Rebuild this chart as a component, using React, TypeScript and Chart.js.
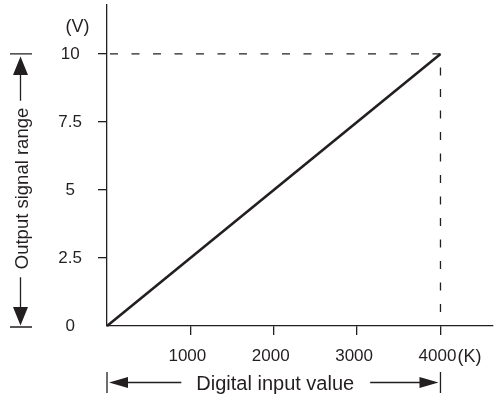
import { useEffect, useRef } from 'react';
import { Chart, registerables } from 'chart.js';

Chart.register(...registerables);

// ---- data ----
const inputValues = [0, 4000];
const outputValues = [0, 10];
const guideHorizontalX = [4000, 0];
const guideHorizontalY = [10, 10];
const guideVerticalX = [4000, 4000];
const guideVerticalY = [10, 0];
const xTickValues = [1000, 2000, 3000, 4000];
const yTickValues = [0, 2.5, 5, 7.5, 10];
const xUnit = '(K)';
const yUnit = '(V)';
const xTitle = 'Digital input value';
const yTitle = 'Output signal range';

const INK = '#231f20';
const FONT = '"Liberation Sans", Arial, Helvetica, sans-serif';

const toPoints = (xs: number[], ys: number[]) => xs.map((x, i) => ({ x, y: ys[i] }));

const decorations = {
  id: 'decorations',
  afterDraw(chart: any) {
    const { ctx } = chart;
    const xs = chart.scales.x;
    const ys = chart.scales.y;
    ctx.save();
    ctx.fillStyle = INK;
    ctx.strokeStyle = INK;
    ctx.lineWidth = 1.3;

    // units
    ctx.font = `18px ${FONT}`;
    ctx.textAlign = 'center';
    ctx.textBaseline = 'middle';
    ctx.fillText(yUnit, 77.5, ys.top + 22);
    ctx.textAlign = 'left';
    ctx.textBaseline = 'alphabetic';
    const lastX = xs.getPixelForValue(xTickValues[xTickValues.length - 1]);
    ctx.fillText(xUnit, lastX + 17, xs.top + 36);

    // y title with arrows
    const yTop = ys.getPixelForValue(10);
    const yBot = ys.getPixelForValue(0);
    const ax = 20.5;
    ctx.font = `18.5px ${FONT}`;
    const tw = ctx.measureText(yTitle).width;
    const cy = (yTop + yBot) / 2 - 1.5;
    ctx.beginPath();
    ctx.moveTo(10, yTop); ctx.lineTo(32, yTop);
    ctx.moveTo(10, yBot + 1); ctx.lineTo(32, yBot + 1);
    ctx.moveTo(ax, yTop + 20); ctx.lineTo(ax, cy - tw / 2 - 7);
    ctx.moveTo(ax, cy + tw / 2 + 8); ctx.lineTo(ax, yBot - 18);
    ctx.stroke();
    ctx.beginPath();
    ctx.moveTo(ax, yTop + 2.5); ctx.lineTo(ax - 7.5, yTop + 21); ctx.lineTo(ax + 7.5, yTop + 21); ctx.closePath();
    ctx.moveTo(ax, yBot - 0.5); ctx.lineTo(ax - 7.5, yBot - 19); ctx.lineTo(ax + 7.5, yBot - 19); ctx.closePath();
    ctx.fill();
    ctx.save();
    ctx.translate(27.5, cy);
    ctx.rotate(-Math.PI / 2);
    ctx.textAlign = 'center';
    ctx.textBaseline = 'alphabetic';
    ctx.fillText(yTitle, 0, 0);
    ctx.restore();

    // x title with arrows
    const xL = xs.getPixelForValue(0);
    const xR = xs.getPixelForValue(4000);
    const by = xs.top + 56.5;
    ctx.font = `20px ${FONT}`;
    const tw2 = ctx.measureText(xTitle).width;
    const cx = (xL + xR) / 2 + 1.5;
    ctx.beginPath();
    ctx.moveTo(xL, by - 10.5); ctx.lineTo(xL, by + 10.5);
    ctx.moveTo(xR, by - 10.5); ctx.lineTo(xR, by + 10.5);
    ctx.moveTo(xL + 20, by); ctx.lineTo(cx - tw2 / 2 - 15, by);
    ctx.moveTo(cx + tw2 / 2 + 16, by); ctx.lineTo(xR - 20, by);
    ctx.stroke();
    ctx.beginPath();
    ctx.moveTo(xL + 2, by); ctx.lineTo(xL + 21, by - 5.5); ctx.lineTo(xL + 21, by + 5.5); ctx.closePath();
    ctx.moveTo(xR - 2, by); ctx.lineTo(xR - 21, by - 5.5); ctx.lineTo(xR - 21, by + 5.5); ctx.closePath();
    ctx.fill();
    ctx.textAlign = 'center';
    ctx.textBaseline = 'alphabetic';
    ctx.fillText(xTitle, cx, by + 7.5);

    ctx.restore();
  },
};

export default function App() {
  const ref = useRef<HTMLCanvasElement | null>(null);
  useEffect(() => {
    if (!ref.current) return;
    const chart = new Chart(ref.current, {
      type: 'line',
      data: {
        datasets: [
          {
            data: toPoints(guideHorizontalX, guideHorizontalY),
            borderColor: INK,
            borderWidth: 1.3,
            borderDash: [8, 13.5],
            pointRadius: 0,
            clip: false,
          },
          {
            data: toPoints(guideVerticalX, guideVerticalY),
            borderColor: INK,
            borderWidth: 1.3,
            borderDash: [8, 13.5],
            borderDashOffset: 8,
            pointRadius: 0,
            clip: false,
          },
          {
            data: toPoints(inputValues, outputValues),
            borderColor: INK,
            borderWidth: 2.6,
            pointRadius: 0,
            clip: false,
          },
        ],
      },
      options: {
        animation: false,
        responsive: false,
        devicePixelRatio: 1,
        layout: { padding: { left: 0, top: 5, right: 3, bottom: 0 } },
        plugins: { legend: { display: false }, tooltip: { enabled: false } },
        scales: {
          x: {
            type: 'linear',
            position: 'bottom',
            min: 0,
            max: 4630,
            afterBuildTicks: (s: any) => { s.ticks = xTickValues.map((value) => ({ value })); },
            afterFit: (s: any) => { s.height = 72; s.paddingLeft = 0; s.paddingRight = 0; s.paddingTop = 0; s.paddingBottom = 0; },
            grid: { drawOnChartArea: false, drawTicks: true, tickLength: 9, color: INK, lineWidth: 1.3 },
            border: { display: true, color: INK, width: 1.3 },
            ticks: {
              color: INK,
              font: { family: FONT, size: 17 },
              padding: 11,
              labelOffset: -3,
              maxRotation: 0,
              callback: (v: any) => String(v),
            },
          },
          y: {
            type: 'linear',
            min: 0,
            max: 11.8,
            afterBuildTicks: (s: any) => { s.ticks = yTickValues.map((value) => ({ value })); },
            afterFit: (s: any) => { s.width = 107; s.paddingLeft = 0; s.paddingRight = 0; s.paddingTop = 0; s.paddingBottom = 0; },
            grid: {
              drawOnChartArea: false,
              drawTicks: true,
              tickLength: 9,
              color: (c: any) => (c.tick && c.tick.value === 0 ? 'rgba(0,0,0,0)' : INK),
              lineWidth: 1.3,
            },
            border: { display: true, color: INK, width: 1.3 },
            ticks: {
              color: INK,
              font: { family: FONT, size: 17 },
              padding: 16,
              crossAlign: 'center',
              callback: (v: any) => String(v),
            },
          },
        },
      },
      plugins: [decorations],
    } as any);
    return () => chart.destroy();
  }, []);
  return (
    <div style={{ position: 'absolute', left: 0, top: 0, width: 496, height: 398, background: '#fff' }}>
      <canvas ref={ref} width={496} height={398} />
    </div>
  );
}
